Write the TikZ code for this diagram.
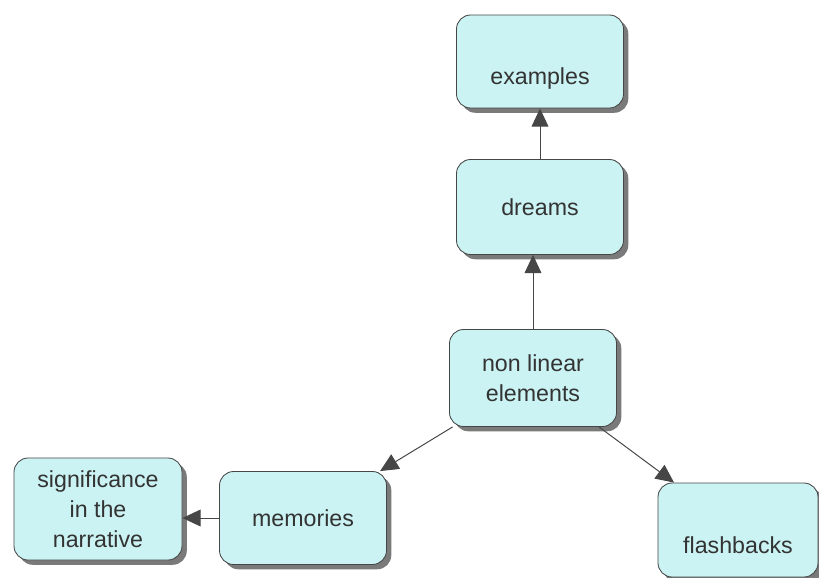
\documentclass[tikz,border=0pt]{standalone}
\usepackage{fontspec}
\setmainfont{Liberation Sans}
\usetikzlibrary{arrows.meta,shadows}
\definecolor{Box}{HTML}{CBF3F3}
\definecolor{Edge}{HTML}{464646}
\definecolor{Ink}{HTML}{333333}
\definecolor{Shade}{HTML}{7A7A7A}
\tikzset{
  >={Triangle[length=13pt,width=12pt]},
  idea/.style={rectangle,rounded corners=10pt,draw=Edge,line width=.6pt,fill=Box,
    minimum width=167*0.025cm,minimum height=95*0.025cm,align=center,text=Ink,
    font=\fontsize{16.5}{21.3}\selectfont,inner sep=2pt,
    drop shadow={shadow xshift=3.4pt,shadow yshift=-3.4pt,fill=Shade,opacity=1}},
  link/.style={->,line width=.7pt,draw=Edge}
}
\begin{document}
\begin{tikzpicture}[x=0.025cm,y=-0.025cm]
        \useasboundingbox (0,0) rectangle (819,577);
        \node[idea,minimum height=93*0.025cm] (ex) at (540,61.5) {\strut\\examples};
        \node[idea] (dr) at (540,207) {dreams};
        \node[idea,minimum height=97*0.025cm] (nl) at (533,378) {non linear\\elements};
        \node[idea,minimum height=93*0.025cm] (mem) at (303,518) {memories};
        \node[idea,minimum width=168*0.025cm,minimum height=102*0.025cm] (sig) at (98,509) {significance\\in the\\narrative};
        \node[idea,minimum width=160*0.025cm,minimum height=94*0.025cm] (fb) at (738,530) {\strut\\[-3pt]flashbacks};
        \draw[link] (dr) -- (ex); \draw[link] (nl.north) -- (nl.north |- dr.south);
        \draw[link] (nl) -- (mem); \draw[link] (nl) -- (fb);
        \draw[link] (mem.west) -- (mem.west -| sig.east);
      \end{tikzpicture}
\end{document}
